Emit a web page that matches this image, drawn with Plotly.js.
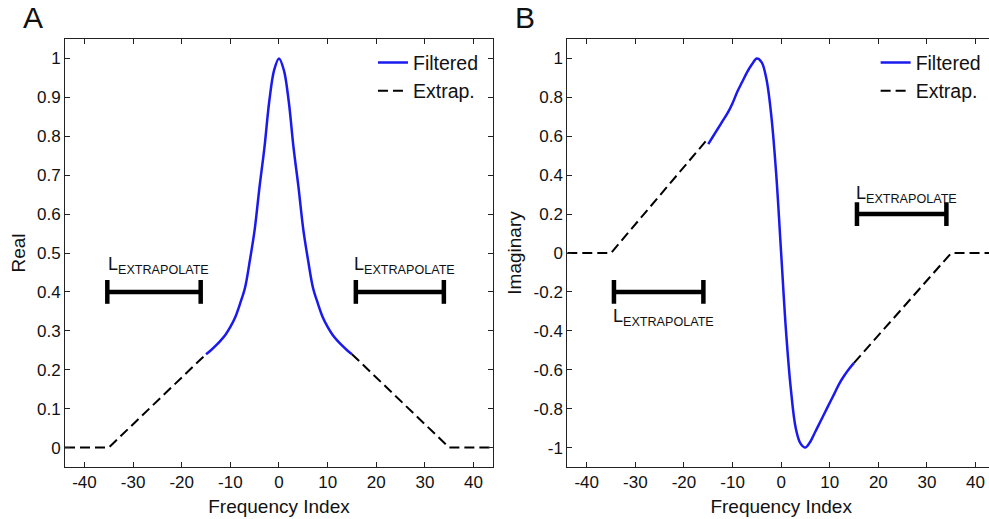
<!DOCTYPE html>
<html>
<head>
<meta charset="utf-8">
<script src="https://cdn.plot.ly/plotly-3.0.1.min.js"></script>
<style>
html,body{margin:0;padding:0;overflow:hidden;background:#fff;}
#chart{width:1000px;height:519px;}
</style>
</head>
<body>
<div id="chart"></div>
<script>
// ---- Panel A (Real) ----
const freqFilt = [-15,-14,-13,-12,-11,-10,-9,-8,-7,-6,-5,-4,-3,-2,-1,0,1,2,3,4,5,6,7,8,9,10,11,12,13,14,15];
const realFilt = [0.24,0.25,0.262,0.275,0.29,0.31,0.335,0.37,0.41,0.48,0.56,0.67,0.77,0.89,0.97,1.0,0.97,0.89,0.77,0.67,0.56,0.48,0.41,0.37,0.335,0.31,0.29,0.275,0.262,0.25,0.24];
const realExtrapX = [-44,-35,-15,null,15,35,44];
const realExtrapY = [0,0,0.24,null,0.24,0,0];

// ---- Panel B (Imaginary) ----
const imagFilt = [0.56,0.60,0.64,0.68,0.72,0.77,0.83,0.88,0.93,0.97,1.0,0.98,0.89,0.70,0.40,0.0,-0.40,-0.70,-0.90,-0.98,-1.0,-0.97,-0.92,-0.87,-0.82,-0.77,-0.72,-0.67,-0.63,-0.595,-0.565];
const imagExtrapX = [-44,-35,-15.5,null,15,35,44];
const imagExtrapY = [0,0,0.575,null,-0.565,0,0];

// ---- L_EXTRAPOLATE markers ----
const barAx = [-35.3,-16.1,null,15.8,33.9];
const barAy = [0.4,0.4,null,0.4,0.4];
const barBx = [-34.4,-16,null,15.6,34];
const barBy = [-0.2,-0.2,null,0.2,0.2];
const labelText = 'L<sub>EXTRAPOLATE</sub>';
const labelAx = [-35.5,15];
const labelAy = [0.468,0.468];
const labelBx = [-35,15];
const labelBy = [-0.33,0.30];

// ---- ticks ----
const xTicks = [-40,-30,-20,-10,0,10,20,30,40];
const xTickText = ['-40','-30','-20','-10','0','10','20','30','40'];
const yATicks = [0,0.1,0.2,0.3,0.4,0.5,0.6,0.7,0.8,0.9,1];
const yATickText = ['0','0.1','0.2','0.3','0.4','0.5','0.6','0.7','0.8','0.9','1'];
const yBTicks = [-1,-0.8,-0.6,-0.4,-0.2,0,0.2,0.4,0.6,0.8,1];
const yBTickText = ['-1','-0.8','-0.6','-0.4','-0.2','0','0.2','0.4','0.6','0.8','1'];

const FONT = '"Liberation Sans", Arial, sans-serif';
const BLUE = '#1a1aee';

const barMarker = {symbol:'line-ns', size:17, color:'#000', line:{width:4.5, color:'#000'}};

const traces = [
  {x:freqFilt, y:realFilt, mode:'lines', name:'Filtered', line:{color:BLUE, width:2.5, shape:'spline'}, xaxis:'x', yaxis:'y', legend:'legend'},
  {x:realExtrapX, y:realExtrapY, mode:'lines', name:'Extrap.', line:{color:'#000', width:2, dash:'10px,5px'}, xaxis:'x', yaxis:'y', legend:'legend'},
  {x:barAx, y:barAy, mode:'lines+markers', showlegend:false, line:{color:'#000', width:4.5}, marker:barMarker, xaxis:'x', yaxis:'y', hoverinfo:'skip'},
  {x:freqFilt, y:imagFilt, mode:'lines', name:'Filtered', line:{color:BLUE, width:2.5, shape:'spline'}, xaxis:'x2', yaxis:'y2', legend:'legend2'},
  {x:imagExtrapX, y:imagExtrapY, mode:'lines', name:'Extrap.', line:{color:'#000', width:2, dash:'10px,5px'}, xaxis:'x2', yaxis:'y2', legend:'legend2'},
  {x:barBx, y:barBy, mode:'lines+markers', showlegend:false, line:{color:'#000', width:4.5}, marker:barMarker, xaxis:'x2', yaxis:'y2', hoverinfo:'skip'}
];

const axisCommon = {
  showline:true, mirror:'ticks', linecolor:'#222', linewidth:1,
  ticks:'inside', ticklen:5, tickcolor:'#222', showgrid:false, zeroline:false,
  tickfont:{size:17, color:'#111', family:FONT}, tickmode:'array'
};
const titleFont = {size:19, family:FONT, color:'#111'};

function mkAnn(xs, ys, xref, yref){
  return xs.map((v,i)=>({x:v, y:ys[i], xref:xref, yref:yref, text:labelText, showarrow:false,
    xanchor:'left', yanchor:'middle', font:{size:18, color:'#111', family:FONT}}));
}

const layout = {
  width:1000, height:519,
  margin:{l:65, r:5, t:39, b:52},
  paper_bgcolor:'#fff', plot_bgcolor:'#fff',
  font:{family:FONT, color:'#111'},
  xaxis:Object.assign({}, axisCommon, {domain:[0,0.4602], range:[-44,44], anchor:'y', tickvals:xTicks, ticktext:xTickText,
    title:{text:'Frequency Index', font:titleFont, standoff:8}}),
  yaxis:Object.assign({}, axisCommon, {domain:[0,1], range:[-0.05,1.05], anchor:'x', tickvals:yATicks, ticktext:yATickText,
    title:{text:'Real', font:titleFont, standoff:6}}),
  xaxis2:Object.assign({}, axisCommon, {domain:[0.5401,1], range:[-44,44], anchor:'y2', tickvals:xTicks, ticktext:xTickText,
    title:{text:'Frequency Index', font:titleFont, standoff:8}}),
  yaxis2:Object.assign({}, axisCommon, {domain:[0,1], range:[-1.1,1.1], anchor:'x2', tickvals:yBTicks, ticktext:yBTickText,
    title:{text:'Imaginary', font:titleFont, standoff:6}}),
  legend:{x:0.4505, xanchor:'right', y:0.99, yanchor:'top', bgcolor:'rgba(0,0,0,0)', font:{size:19.5, family:FONT, color:'#111'}, tracegroupgap:0},
  legend2:{x:0.991, xanchor:'right', y:0.99, yanchor:'top', bgcolor:'rgba(0,0,0,0)', font:{size:19.5, family:FONT, color:'#111'}, tracegroupgap:0},
  annotations:[].concat(
    mkAnn(labelAx, labelAy, 'x', 'y'),
    mkAnn(labelBx, labelBy, 'x2', 'y2'),
    [
      {x:-0.0344, y:1.051, xref:'paper', yref:'paper', text:'A', showarrow:false, xanchor:'center', yanchor:'middle', font:{size:30, family:FONT, color:'#111'}},
      {x:0.4946, y:1.051, xref:'paper', yref:'paper', text:'B', showarrow:false, xanchor:'center', yanchor:'middle', font:{size:30, family:FONT, color:'#111'}}
    ]
  ),
  showlegend:true
};

Plotly.newPlot('chart', traces, layout, {staticPlot:true, displayModeBar:false});
</script>
</body>
</html>
